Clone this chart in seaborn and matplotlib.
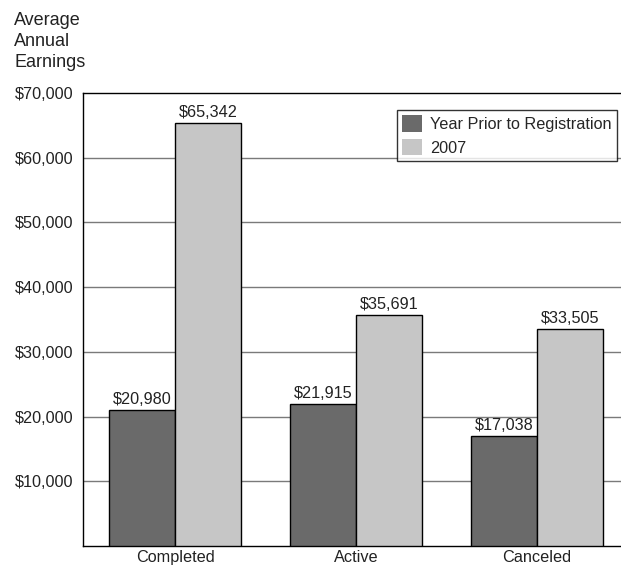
import matplotlib
matplotlib.use("Agg")
import matplotlib.pyplot as plt
import seaborn as sns
import pandas as pd

categories = ["Completed", "Active", "Canceled"]
prior_year = [20980, 21915, 17038]
year_2007 = [65342, 35691, 33505]
series_names = ["Year Prior to Registration", "2007"]
y_ticks = [10000, 20000, 30000, 40000, 50000, 60000, 70000]

df = pd.DataFrame({
    "Status": categories * 2,
    "Series": [series_names[0]] * 3 + [series_names[1]] * 3,
    "Earnings": prior_year + year_2007,
})

sns.set_theme(style="white")
plt.rcParams["font.family"] = ["Liberation Sans", "DejaVu Sans"]
FS = 11.7

fig = plt.figure(figsize=(6.21, 5.70), dpi=100)
ax = fig.add_axes([0.1337, 0.0421, 0.8663, 0.7947])

palette = {series_names[0]: "#6a6a6a", series_names[1]: "#c6c6c6"}
sns.barplot(data=df, x="Status", y="Earnings", hue="Series", order=categories,
            hue_order=series_names, palette=palette, width=0.73, saturation=1,
            edgecolor="black", linewidth=1.0, ax=ax, zorder=3)

ax.set_ylim(0, 70000)
ax.set_xlim(-0.51, 2.465)
ax.set_yticks(y_ticks)
ax.set_yticklabels([f"${v:,}" for v in y_ticks], fontsize=FS, color="#222222")
ax.tick_params(axis="x", labelsize=FS, colors="#222222", length=0, pad=3)
ax.tick_params(axis="y", length=0, pad=7)
ax.set_xlabel("")
ax.set_ylabel("")

for v in y_ticks[:-1]:
    ax.axhline(v, color="#7a7a7a", linewidth=1.0, zorder=1)

for side in ["left", "top", "bottom"]:
    ax.spines[side].set_visible(True)
    ax.spines[side].set_color("black")
    ax.spines[side].set_linewidth(1.0)
ax.spines["right"].set_visible(False)

for container in ax.containers:
    ax.bar_label(container, labels=[f"${v:,.0f}" for v in container.datavalues],
                 padding=2, fontsize=FS, color="#222222")

leg = ax.legend(loc="upper right", bbox_to_anchor=(0.993, 0.963), borderaxespad=0,
                frameon=True, fancybox=False, fontsize=FS, handlelength=1.2,
                handleheight=1.2, handletextpad=0.5, labelspacing=0.4,
                borderpad=0.35)
leg.get_frame().set_edgecolor("black")
leg.get_frame().set_linewidth(1.0)
for h in leg.legend_handles:
    h.set_edgecolor("none")

fig.text(0.023, 0.979, "Average\nAnnual\nEarnings", ha="left", va="top",
         fontsize=13, color="#222222", linespacing=1.32)

fig.savefig("out.png", dpi=100)
